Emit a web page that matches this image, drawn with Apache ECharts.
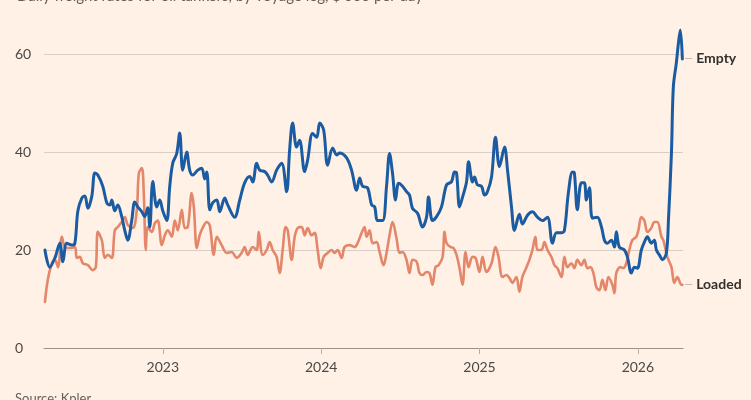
<!DOCTYPE html>
<html>
<head>
<meta charset="utf-8">
<script src="https://cdn.jsdelivr.net/npm/echarts@6/dist/echarts.min.js"></script>
<style>
html,body{margin:0;padding:0;background:#fff1e5;}
#c{width:751px;height:400px;}
</style>
</head>
<body>
<div id="c"></div>
<script>
// time in decimal years
const emptyT = [2022.256,2022.287,2022.319,2022.350,2022.369,2022.394,2022.426,2022.445,2022.464,2022.489,2022.508,2022.527,2022.552,2022.571,2022.590,2022.621,2022.647,2022.666,2022.678,2022.697,2022.716,2022.741,2022.760,2022.779,2022.804,2022.823,2022.842,2022.868,2022.886,2022.905,2022.918,2022.937,2022.962,2022.981,2023.000,2023.025,2023.044,2023.063,2023.088,2023.107,2023.126,2023.151,2023.170,2023.189,2023.221,2023.246,2023.265,2023.278,2023.297,2023.315,2023.341,2023.360,2023.391,2023.410,2023.454,2023.486,2023.517,2023.549,2023.568,2023.593,2023.612,2023.644,2023.662,2023.688,2023.719,2023.751,2023.782,2023.801,2023.820,2023.845,2023.864,2023.896,2023.915,2023.946,2023.972,2023.991,2024.016,2024.041,2024.073,2024.098,2024.117,2024.161,2024.192,2024.224,2024.243,2024.262,2024.293,2024.319,2024.338,2024.356,2024.388,2024.413,2024.432,2024.451,2024.470,2024.489,2024.514,2024.539,2024.558,2024.577,2024.609,2024.640,2024.666,2024.678,2024.703,2024.729,2024.760,2024.792,2024.823,2024.842,2024.855,2024.874,2024.893,2024.918,2024.931,2024.956,2024.968,2024.987,2025.013,2025.032,2025.050,2025.076,2025.101,2025.126,2025.158,2025.177,2025.202,2025.221,2025.252,2025.271,2025.303,2025.334,2025.366,2025.397,2025.429,2025.461,2025.486,2025.517,2025.536,2025.561,2025.587,2025.599,2025.618,2025.643,2025.662,2025.675,2025.694,2025.713,2025.744,2025.770,2025.789,2025.808,2025.833,2025.852,2025.864,2025.883,2025.915,2025.934,2025.959,2025.978,2025.997,2026.022,2026.041,2026.060,2026.085,2026.104,2026.117,2026.136,2026.155,2026.180,2026.193,2026.212,2026.224,2026.243,2026.256,2026.268,2026.281];
const emptyV = [20,16.5,18.4,21.4,17.6,21.4,21,21.4,28,30.6,31,28.5,31,35.7,35.3,33,29.6,29.2,30.2,28,29.2,26.8,24,22,26,29.8,28.8,27.8,26.8,28.6,24.7,34,28.8,30.2,28,26,33,37.7,39.7,43.9,36.3,40,36.3,35.3,36.3,36.7,34.5,35.9,28.2,29.6,30.2,27.8,30.6,29.2,26.7,30.2,33.7,35,33.9,37.7,36.3,36,35.3,33.9,36.3,37.7,31.9,40.4,45.9,41,42.4,36,38.4,43.8,43,45.9,44.5,37.3,40.8,39.4,39.8,38.8,36.3,32.2,34.7,33,32.7,29.2,28.8,26,26,33,39.7,35.6,30.2,33.6,33,31.9,31.2,28.5,27.5,24.7,26.8,30.8,26,26.8,28.8,33.3,33.9,35.9,35.7,28.8,30.8,33.9,38,33.9,34.9,33.3,33,31.2,31.9,34.9,43,37,41,36.3,28.8,24,27.3,25.3,27.1,27.8,26.7,26,26.7,21.4,23.5,23.5,24,31.6,35.9,35.7,28.2,33.7,33.7,30.2,32.7,26.5,26.7,24.7,22,21.4,22,20.6,23.7,20.6,20,18.6,15.3,16.5,16.3,20,21.6,22.7,21.4,22,20,19,18,19.4,26,39.8,53.3,58.2,62.2,64.9,59];
const loadedT = [2022.256,2022.274,2022.300,2022.319,2022.338,2022.363,2022.382,2022.413,2022.445,2022.457,2022.476,2022.495,2022.527,2022.558,2022.577,2022.590,2022.615,2022.634,2022.653,2022.678,2022.697,2022.716,2022.741,2022.760,2022.779,2022.811,2022.836,2022.849,2022.868,2022.880,2022.893,2022.905,2022.931,2022.950,2022.968,2022.994,2023.013,2023.032,2023.057,2023.076,2023.095,2023.120,2023.139,2023.158,2023.183,2023.196,2023.215,2023.233,2023.252,2023.278,2023.297,2023.322,2023.341,2023.372,2023.404,2023.435,2023.467,2023.498,2023.517,2023.536,2023.568,2023.593,2023.606,2023.631,2023.656,2023.675,2023.694,2023.719,2023.738,2023.757,2023.776,2023.789,2023.814,2023.833,2023.852,2023.877,2023.896,2023.915,2023.940,2023.959,2023.978,2023.997,2024.016,2024.041,2024.066,2024.085,2024.104,2024.129,2024.148,2024.180,2024.211,2024.230,2024.256,2024.274,2024.287,2024.306,2024.325,2024.350,2024.369,2024.394,2024.413,2024.432,2024.451,2024.476,2024.495,2024.514,2024.539,2024.558,2024.577,2024.603,2024.621,2024.640,2024.666,2024.684,2024.703,2024.722,2024.741,2024.767,2024.779,2024.792,2024.817,2024.836,2024.855,2024.874,2024.893,2024.912,2024.931,2024.956,2024.975,2025.000,2025.019,2025.044,2025.076,2025.101,2025.120,2025.145,2025.170,2025.189,2025.208,2025.233,2025.252,2025.271,2025.297,2025.315,2025.334,2025.353,2025.366,2025.391,2025.410,2025.429,2025.454,2025.473,2025.492,2025.517,2025.536,2025.555,2025.580,2025.599,2025.618,2025.643,2025.662,2025.681,2025.700,2025.719,2025.738,2025.757,2025.776,2025.795,2025.814,2025.839,2025.852,2025.864,2025.889,2025.908,2025.927,2025.946,2025.965,2025.990,2026.003,2026.022,2026.041,2026.060,2026.085,2026.104,2026.123,2026.149,2026.161,2026.186,2026.212,2026.230,2026.249,2026.275,2026.281];
const loadedV = [9.4,13.9,17.3,18,16.5,22.7,20.6,20.4,20.6,18.4,18.6,17.3,16.9,15.9,16.5,23.7,22,18.4,19,18.4,24,24.7,25.7,26.7,25.1,24.5,28.2,35.7,36.7,31.6,20,24.7,23.7,25.5,26,21,23,24,22.7,26,24,28.2,24.5,24.7,31.6,28.8,20.4,23,24.5,25.7,25,19,22.7,21,19.4,19.6,18.4,19.4,20.6,19,20.6,20,23.7,19,20,21.6,20,18.6,15.3,20,24.7,24,18,22.7,24.5,24.7,23,24.5,23,23.5,20,16.3,18.6,19.4,20,19.4,20,18.4,20.6,21,20.6,21.4,23.5,24.7,22.7,24,21.4,21.6,19.6,16.9,19.4,23,25.7,22.4,19.4,19.6,18,15.3,18,17.6,15.3,14.9,15.5,15.3,12.9,16.5,16.9,18.6,23.7,21.4,20.6,20.4,19,16.3,12.9,19.6,16.5,18.6,18.4,15.5,18.6,15.5,17.3,20.6,18.6,14.5,14.9,14.3,13.3,14.5,11.5,14.5,16.5,18,20,22.7,20,20,21.6,20,18.6,16.9,16.3,14.5,18.6,16.5,17.3,16.3,18,16.9,18,16.3,16.5,15.3,12.4,11.8,13.9,11.8,14.5,12.9,11.2,15.3,16.5,16.3,17.3,20,22,22.7,24,26.7,26,23.7,24.5,25.7,25.7,22.7,22,18.6,16.5,13.3,14.5,12.9,12.9];
const yearTicks = [2023, 2024, 2025, 2026];
const yTicks = [0, 20, 40, 60];
const seriesNames = ['Empty', 'Loaded'];

const zip = (t, v) => t.map((x, i) => [x, v[i]]);
const chart = echarts.init(document.getElementById('c'));
const FONT = 'Lato, "Noto Sans", sans-serif';
chart.setOption({
  backgroundColor: '#fff1e5',
  animation: false,
  textStyle: { fontFamily: FONT },
  graphic: [
    { type: 'text', left: 17, top: -11, style: { text: "Daily freight rates for oil tankers, by voyage leg, $'000 per day", fill: '#66605c', font: '15px ' + FONT } },
    { type: 'text', left: 15, top: 392, style: { text: 'Source: Kpler', fill: '#66605c', font: '13px ' + FONT } }
  ],
  grid: { left: 44, right: 68, top: 54, bottom: 52 },
  xAxis: {
    type: 'value', min: 2022.25, max: 2026.285,
    axisLine: { show: true, lineStyle: { color: '#9e918a', width: 1.2 } },
    axisTick: { show: true, customValues: yearTicks, length: 6, lineStyle: { color: '#b8aca3' } },
    axisLabel: { customValues: yearTicks, color: '#4d4845', fontSize: 14, margin: 12, formatter: v => String(v) },
    splitLine: { show: false }
  },
  yAxis: {
    type: 'value', min: 0, max: 60, interval: 20,
    axisLine: { show: false }, axisTick: { show: false },
    axisLabel: { color: '#4d4845', fontSize: 14, align: 'left', margin: 29, customValues: yTicks },
    splitLine: { lineStyle: { color: '#d9cec5', width: 1 } }
  },
  series: [
    {
      name: seriesNames[1], type: 'line', data: zip(loadedT, loadedV), showSymbol: false, smooth: 0.35, clip: false,
      lineStyle: { color: '#e4866a', width: 2.6, join: 'round', cap: 'round' }, z: 2,
      endLabel: { show: true, distance: 2, formatter: '{l|—} {n|Loaded}', rich: { l: { color: '#b8aca3', fontSize: 11 }, n: { color: '#33302e', fontSize: 14, fontWeight: 'bold', fontFamily: FONT } } }
    },
    {
      name: seriesNames[0], type: 'line', data: zip(emptyT, emptyV), showSymbol: false, smooth: 0.35, clip: false,
      lineStyle: { color: '#1b5ba2', width: 3, join: 'round', cap: 'round' }, z: 3,
      endLabel: { show: true, distance: 2, formatter: '{l|—} {n|Empty}', rich: { l: { color: '#b8aca3', fontSize: 11 }, n: { color: '#33302e', fontSize: 14, fontWeight: 'bold', fontFamily: FONT } } }
    }
  ]
});
</script>
</body>
</html>
